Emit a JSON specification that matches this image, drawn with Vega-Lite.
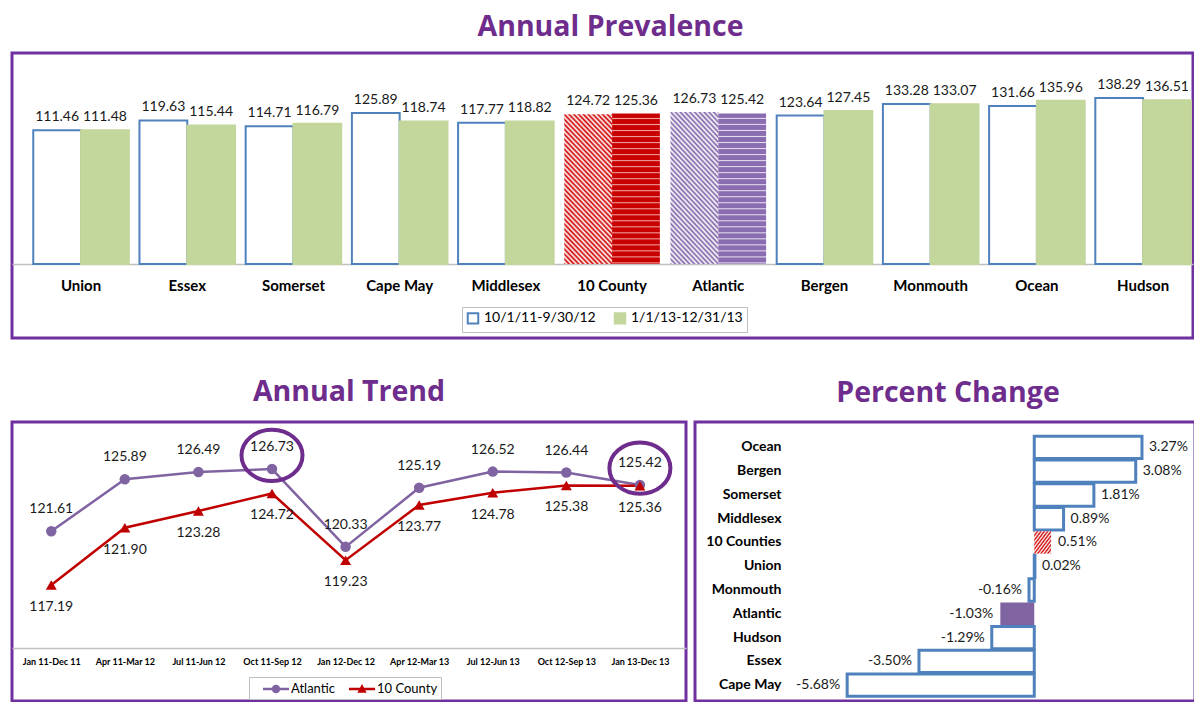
{
  "$schema": "https://vega.github.io/schema/vega-lite/v6.json",
  "background": "white",
  "padding": {"left": 10, "top": 11, "right": 0, "bottom": 0},
  "spacing": 36,
  "config": {
    "font": "Lato",
    "locale": {"number": {"decimal": ".", "thousands": ",", "grouping": [3], "currency": ["$", ""], "minus": "-"}},
    "view": {"stroke": "#7030A0", "strokeWidth": 3},
    "title": {"font": "Open Sans", "fontSize": 28.5, "fontWeight": "bold", "color": "#6E2C8C", "anchor": "middle", "offset": 12},
    "axis": {"grid": false, "ticks": false, "tickSize": 0, "title": null, "domainColor": "#BFBFBF", "labelColor": "#000000", "labelFont": "Lato", "labelFontWeight": "bold"},
    "legend": {"labelFont": "Lato", "labelColor": "#000000"}
  },
  "datasets": {
    "prev": [
      {"county": "Union", "period": "10/1/11-9/30/12", "value": 111.46},
      {"county": "Union", "period": "1/1/13-12/31/13", "value": 111.48},
      {"county": "Essex", "period": "10/1/11-9/30/12", "value": 119.63},
      {"county": "Essex", "period": "1/1/13-12/31/13", "value": 115.44},
      {"county": "Somerset", "period": "10/1/11-9/30/12", "value": 114.71},
      {"county": "Somerset", "period": "1/1/13-12/31/13", "value": 116.79},
      {"county": "Cape May", "period": "10/1/11-9/30/12", "value": 125.89},
      {"county": "Cape May", "period": "1/1/13-12/31/13", "value": 118.74},
      {"county": "Middlesex", "period": "10/1/11-9/30/12", "value": 117.77},
      {"county": "Middlesex", "period": "1/1/13-12/31/13", "value": 118.82},
      {"county": "10 County", "period": "10/1/11-9/30/12", "value": 124.72},
      {"county": "10 County", "period": "1/1/13-12/31/13", "value": 125.36},
      {"county": "Atlantic", "period": "10/1/11-9/30/12", "value": 126.73},
      {"county": "Atlantic", "period": "1/1/13-12/31/13", "value": 125.42},
      {"county": "Bergen", "period": "10/1/11-9/30/12", "value": 123.64},
      {"county": "Bergen", "period": "1/1/13-12/31/13", "value": 127.45},
      {"county": "Monmouth", "period": "10/1/11-9/30/12", "value": 133.28},
      {"county": "Monmouth", "period": "1/1/13-12/31/13", "value": 133.07},
      {"county": "Ocean", "period": "10/1/11-9/30/12", "value": 131.66},
      {"county": "Ocean", "period": "1/1/13-12/31/13", "value": 135.96},
      {"county": "Hudson", "period": "10/1/11-9/30/12", "value": 138.29},
      {"county": "Hudson", "period": "1/1/13-12/31/13", "value": 136.51}
    ],
    "trend": [
      {"period": "Jan 11-Dec 11", "series": "Atlantic", "value": 121.61},
      {"period": "Apr 11-Mar 12", "series": "Atlantic", "value": 125.89},
      {"period": "Jul 11-Jun 12", "series": "Atlantic", "value": 126.49},
      {"period": "Oct 11-Sep 12", "series": "Atlantic", "value": 126.73},
      {"period": "Jan 12-Dec 12", "series": "Atlantic", "value": 120.33},
      {"period": "Apr 12-Mar 13", "series": "Atlantic", "value": 125.19},
      {"period": "Jul 12-Jun 13", "series": "Atlantic", "value": 126.52},
      {"period": "Oct 12-Sep 13", "series": "Atlantic", "value": 126.44},
      {"period": "Jan 13-Dec 13", "series": "Atlantic", "value": 125.42},
      {"period": "Jan 11-Dec 11", "series": "10 County", "value": 117.19},
      {"period": "Apr 11-Mar 12", "series": "10 County", "value": 121.90},
      {"period": "Jul 11-Jun 12", "series": "10 County", "value": 123.28},
      {"period": "Oct 11-Sep 12", "series": "10 County", "value": 124.72},
      {"period": "Jan 12-Dec 12", "series": "10 County", "value": 119.23},
      {"period": "Apr 12-Mar 13", "series": "10 County", "value": 123.77},
      {"period": "Jul 12-Jun 13", "series": "10 County", "value": 124.78},
      {"period": "Oct 12-Sep 13", "series": "10 County", "value": 125.38},
      {"period": "Jan 13-Dec 13", "series": "10 County", "value": 125.36}
    ],
    "rings": [
      {"period": "Oct 11-Sep 12", "value": 127.85},
      {"period": "Jan 13-Dec 13", "value": 126.8}
    ],
    "pct": [
      {"county": "Ocean", "pct": 0.0327},
      {"county": "Bergen", "pct": 0.0308},
      {"county": "Somerset", "pct": 0.0181},
      {"county": "Middlesex", "pct": 0.0089},
      {"county": "10 Counties", "pct": 0.0051},
      {"county": "Union", "pct": 0.0002},
      {"county": "Monmouth", "pct": -0.0016},
      {"county": "Atlantic", "pct": -0.0103},
      {"county": "Hudson", "pct": -0.0129},
      {"county": "Essex", "pct": -0.0350},
      {"county": "Cape May", "pct": -0.0568}
    ]
  },
  "vconcat": [
    {
      "title": {"text": "Annual Prevalence", "dx": 8},
      "width": 1181,
      "height": 285,
      "data": {"name": "prev"},
      "layer": [
        {
          "transform": [{"filter": "datum.county !== '10 County' && datum.county !== 'Atlantic'"}],
          "mark": {"type": "bar", "strokeWidth": 2},
          "encoding": {
            "x": {"field": "county", "type": "nominal", "sort": ["Union","Essex","Somerset","Cape May","Middlesex","10 County","Atlantic","Bergen","Monmouth","Ocean","Hudson"],
              "scale": {"paddingInner": 0.1, "paddingOuter": 0.11, "align": 0.91},
              "axis": {"offset": -74, "labelAngle": 0, "labelFontSize": 15, "labelPadding": 14, "domainWidth": 1.5}},
            "xOffset": {"field": "period", "type": "nominal", "sort": ["10/1/11-9/30/12","1/1/13-12/31/13"], "scale": {"paddingInner": 0}},
            "y": {"field": "value", "type": "quantitative", "stack": null, "scale": {"domain": [-61.7, 175.8], "nice": false, "zero": false}, "axis": null},
            "fill": {"field": "period", "type": "nominal", "scale": {"domain": ["10/1/11-9/30/12","1/1/13-12/31/13"], "range": ["#FFFFFF", "#C3D69B"]},
              "legend": {"orient": "none", "legendX": 450, "legendY": 254, "direction": "horizontal", "title": null, "strokeColor": "#BFBFBF", "padding": 4, "symbolType": "square", "symbolSize": 110, "symbolStrokeWidth": 2, "labelFontSize": 14, "columnPadding": 14}},
            "stroke": {"field": "period", "type": "nominal", "scale": {"domain": ["10/1/11-9/30/12","1/1/13-12/31/13"], "range": ["#4F81BD", "#C3D69B"]},
              "legend": {"orient": "none", "legendX": 450, "legendY": 254, "direction": "horizontal", "title": null, "strokeColor": "#BFBFBF", "padding": 4, "symbolType": "square", "symbolSize": 110, "symbolStrokeWidth": 2, "labelFontSize": 14, "columnPadding": 14}}
          }
        },
        {
          "transform": [{"filter": "datum.county === '10 County' && datum.period === '10/1/11-9/30/12'"}],
          "mark": {"type": "bar", "fill": {"gradient": "linear", "x1": 0, "y1": 1, "x2": 0.4, "y2": -0.2, "stops": [
            {"offset":0,"color":"#D00000"},{"offset":0.0125,"color":"#FFFFFF"},{"offset":0.025,"color":"#D00000"},{"offset":0.0375,"color":"#FFFFFF"},{"offset":0.05,"color":"#D00000"},{"offset":0.0625,"color":"#FFFFFF"},{"offset":0.075,"color":"#D00000"},{"offset":0.0875,"color":"#FFFFFF"},{"offset":0.1,"color":"#D00000"},{"offset":0.1125,"color":"#FFFFFF"},{"offset":0.125,"color":"#D00000"},{"offset":0.1375,"color":"#FFFFFF"},{"offset":0.15,"color":"#D00000"},{"offset":0.1625,"color":"#FFFFFF"},{"offset":0.175,"color":"#D00000"},{"offset":0.1875,"color":"#FFFFFF"},{"offset":0.2,"color":"#D00000"},{"offset":0.2125,"color":"#FFFFFF"},{"offset":0.225,"color":"#D00000"},{"offset":0.2375,"color":"#FFFFFF"},{"offset":0.25,"color":"#D00000"},{"offset":0.2625,"color":"#FFFFFF"},{"offset":0.275,"color":"#D00000"},{"offset":0.2875,"color":"#FFFFFF"},{"offset":0.3,"color":"#D00000"},{"offset":0.3125,"color":"#FFFFFF"},{"offset":0.325,"color":"#D00000"},{"offset":0.3375,"color":"#FFFFFF"},{"offset":0.35,"color":"#D00000"},{"offset":0.3625,"color":"#FFFFFF"},{"offset":0.375,"color":"#D00000"},{"offset":0.3875,"color":"#FFFFFF"},{"offset":0.4,"color":"#D00000"},{"offset":0.4125,"color":"#FFFFFF"},{"offset":0.425,"color":"#D00000"},{"offset":0.4375,"color":"#FFFFFF"},{"offset":0.45,"color":"#D00000"},{"offset":0.4625,"color":"#FFFFFF"},{"offset":0.475,"color":"#D00000"},{"offset":0.4875,"color":"#FFFFFF"},{"offset":0.5,"color":"#D00000"},{"offset":0.5125,"color":"#FFFFFF"},{"offset":0.525,"color":"#D00000"},{"offset":0.5375,"color":"#FFFFFF"},{"offset":0.55,"color":"#D00000"},{"offset":0.5625,"color":"#FFFFFF"},{"offset":0.575,"color":"#D00000"},{"offset":0.5875,"color":"#FFFFFF"},{"offset":0.6,"color":"#D00000"},{"offset":0.6125,"color":"#FFFFFF"},{"offset":0.625,"color":"#D00000"},{"offset":0.6375,"color":"#FFFFFF"},{"offset":0.65,"color":"#D00000"},{"offset":0.6625,"color":"#FFFFFF"},{"offset":0.675,"color":"#D00000"},{"offset":0.6875,"color":"#FFFFFF"},{"offset":0.7,"color":"#D00000"},{"offset":0.7125,"color":"#FFFFFF"},{"offset":0.725,"color":"#D00000"},{"offset":0.7375,"color":"#FFFFFF"},{"offset":0.75,"color":"#D00000"},{"offset":0.7625,"color":"#FFFFFF"},{"offset":0.775,"color":"#D00000"},{"offset":0.7875,"color":"#FFFFFF"},{"offset":0.8,"color":"#D00000"},{"offset":0.8125,"color":"#FFFFFF"},{"offset":0.825,"color":"#D00000"},{"offset":0.8375,"color":"#FFFFFF"},{"offset":0.85,"color":"#D00000"},{"offset":0.8625,"color":"#FFFFFF"},{"offset":0.875,"color":"#D00000"},{"offset":0.8875,"color":"#FFFFFF"},{"offset":0.9,"color":"#D00000"},{"offset":0.9125,"color":"#FFFFFF"},{"offset":0.925,"color":"#D00000"},{"offset":0.9375,"color":"#FFFFFF"},{"offset":0.95,"color":"#D00000"},{"offset":0.9625,"color":"#FFFFFF"},{"offset":0.975,"color":"#D00000"},{"offset":0.9875,"color":"#FFFFFF"},{"offset":1,"color":"#D00000"}]}},
          "encoding": {
            "x": {"field": "county", "type": "nominal", "sort": ["Union","Essex","Somerset","Cape May","Middlesex","10 County","Atlantic","Bergen","Monmouth","Ocean","Hudson"]},
            "xOffset": {"field": "period", "type": "nominal", "sort": ["10/1/11-9/30/12","1/1/13-12/31/13"]},
            "y": {"field": "value", "type": "quantitative", "stack": null}
          }
        },
        {
          "transform": [{"filter": "datum.county === 'Atlantic' && datum.period === '10/1/11-9/30/12'"}],
          "mark": {"type": "bar", "fill": {"gradient": "linear", "x1": 0, "y1": 1, "x2": 0.4, "y2": -0.2, "stops": [
            {"offset":0,"color":"#7E62A8"},{"offset":0.0125,"color":"#FFFFFF"},{"offset":0.025,"color":"#7E62A8"},{"offset":0.0375,"color":"#FFFFFF"},{"offset":0.05,"color":"#7E62A8"},{"offset":0.0625,"color":"#FFFFFF"},{"offset":0.075,"color":"#7E62A8"},{"offset":0.0875,"color":"#FFFFFF"},{"offset":0.1,"color":"#7E62A8"},{"offset":0.1125,"color":"#FFFFFF"},{"offset":0.125,"color":"#7E62A8"},{"offset":0.1375,"color":"#FFFFFF"},{"offset":0.15,"color":"#7E62A8"},{"offset":0.1625,"color":"#FFFFFF"},{"offset":0.175,"color":"#7E62A8"},{"offset":0.1875,"color":"#FFFFFF"},{"offset":0.2,"color":"#7E62A8"},{"offset":0.2125,"color":"#FFFFFF"},{"offset":0.225,"color":"#7E62A8"},{"offset":0.2375,"color":"#FFFFFF"},{"offset":0.25,"color":"#7E62A8"},{"offset":0.2625,"color":"#FFFFFF"},{"offset":0.275,"color":"#7E62A8"},{"offset":0.2875,"color":"#FFFFFF"},{"offset":0.3,"color":"#7E62A8"},{"offset":0.3125,"color":"#FFFFFF"},{"offset":0.325,"color":"#7E62A8"},{"offset":0.3375,"color":"#FFFFFF"},{"offset":0.35,"color":"#7E62A8"},{"offset":0.3625,"color":"#FFFFFF"},{"offset":0.375,"color":"#7E62A8"},{"offset":0.3875,"color":"#FFFFFF"},{"offset":0.4,"color":"#7E62A8"},{"offset":0.4125,"color":"#FFFFFF"},{"offset":0.425,"color":"#7E62A8"},{"offset":0.4375,"color":"#FFFFFF"},{"offset":0.45,"color":"#7E62A8"},{"offset":0.4625,"color":"#FFFFFF"},{"offset":0.475,"color":"#7E62A8"},{"offset":0.4875,"color":"#FFFFFF"},{"offset":0.5,"color":"#7E62A8"},{"offset":0.5125,"color":"#FFFFFF"},{"offset":0.525,"color":"#7E62A8"},{"offset":0.5375,"color":"#FFFFFF"},{"offset":0.55,"color":"#7E62A8"},{"offset":0.5625,"color":"#FFFFFF"},{"offset":0.575,"color":"#7E62A8"},{"offset":0.5875,"color":"#FFFFFF"},{"offset":0.6,"color":"#7E62A8"},{"offset":0.6125,"color":"#FFFFFF"},{"offset":0.625,"color":"#7E62A8"},{"offset":0.6375,"color":"#FFFFFF"},{"offset":0.65,"color":"#7E62A8"},{"offset":0.6625,"color":"#FFFFFF"},{"offset":0.675,"color":"#7E62A8"},{"offset":0.6875,"color":"#FFFFFF"},{"offset":0.7,"color":"#7E62A8"},{"offset":0.7125,"color":"#FFFFFF"},{"offset":0.725,"color":"#7E62A8"},{"offset":0.7375,"color":"#FFFFFF"},{"offset":0.75,"color":"#7E62A8"},{"offset":0.7625,"color":"#FFFFFF"},{"offset":0.775,"color":"#7E62A8"},{"offset":0.7875,"color":"#FFFFFF"},{"offset":0.8,"color":"#7E62A8"},{"offset":0.8125,"color":"#FFFFFF"},{"offset":0.825,"color":"#7E62A8"},{"offset":0.8375,"color":"#FFFFFF"},{"offset":0.85,"color":"#7E62A8"},{"offset":0.8625,"color":"#FFFFFF"},{"offset":0.875,"color":"#7E62A8"},{"offset":0.8875,"color":"#FFFFFF"},{"offset":0.9,"color":"#7E62A8"},{"offset":0.9125,"color":"#FFFFFF"},{"offset":0.925,"color":"#7E62A8"},{"offset":0.9375,"color":"#FFFFFF"},{"offset":0.95,"color":"#7E62A8"},{"offset":0.9625,"color":"#FFFFFF"},{"offset":0.975,"color":"#7E62A8"},{"offset":0.9875,"color":"#FFFFFF"},{"offset":1,"color":"#7E62A8"}]}},
          "encoding": {
            "x": {"field": "county", "type": "nominal", "sort": ["Union","Essex","Somerset","Cape May","Middlesex","10 County","Atlantic","Bergen","Monmouth","Ocean","Hudson"]},
            "xOffset": {"field": "period", "type": "nominal", "sort": ["10/1/11-9/30/12","1/1/13-12/31/13"]},
            "y": {"field": "value", "type": "quantitative", "stack": null}
          }
        },
        {
          "transform": [{"filter": "datum.county === '10 County' && datum.period === '1/1/13-12/31/13'"}],
          "mark": {"type": "bar", "fill": {"gradient": "linear", "x1": 0, "y1": 0, "x2": 0, "y2": 1, "stops": [
            {"offset":0,"color":"#C80000"},{"offset":0.026,"color":"#C80000"},{"offset":0.033,"color":"#F2A0A0"},
            {"offset":0.04,"color":"#C80000"},{"offset":0.066,"color":"#C80000"},{"offset":0.073,"color":"#F2A0A0"},
            {"offset":0.08,"color":"#C80000"},{"offset":0.106,"color":"#C80000"},{"offset":0.113,"color":"#F2A0A0"},
            {"offset":0.12,"color":"#C80000"},{"offset":0.146,"color":"#C80000"},{"offset":0.153,"color":"#F2A0A0"},
            {"offset":0.16,"color":"#C80000"},{"offset":0.186,"color":"#C80000"},{"offset":0.193,"color":"#F2A0A0"},
            {"offset":0.2,"color":"#C80000"},{"offset":0.226,"color":"#C80000"},{"offset":0.233,"color":"#F2A0A0"},
            {"offset":0.24,"color":"#C80000"},{"offset":0.266,"color":"#C80000"},{"offset":0.273,"color":"#F2A0A0"},
            {"offset":0.28,"color":"#C80000"},{"offset":0.306,"color":"#C80000"},{"offset":0.313,"color":"#F2A0A0"},
            {"offset":0.32,"color":"#C80000"},{"offset":0.346,"color":"#C80000"},{"offset":0.353,"color":"#F2A0A0"},
            {"offset":0.36,"color":"#C80000"},{"offset":0.386,"color":"#C80000"},{"offset":0.393,"color":"#F2A0A0"},
            {"offset":0.4,"color":"#C80000"},{"offset":0.426,"color":"#C80000"},{"offset":0.433,"color":"#F2A0A0"},
            {"offset":0.44,"color":"#C80000"},{"offset":0.466,"color":"#C80000"},{"offset":0.473,"color":"#F2A0A0"},
            {"offset":0.48,"color":"#C80000"},{"offset":0.506,"color":"#C80000"},{"offset":0.513,"color":"#F2A0A0"},
            {"offset":0.52,"color":"#C80000"},{"offset":0.546,"color":"#C80000"},{"offset":0.553,"color":"#F2A0A0"},
            {"offset":0.56,"color":"#C80000"},{"offset":0.586,"color":"#C80000"},{"offset":0.593,"color":"#F2A0A0"},
            {"offset":0.6,"color":"#C80000"},{"offset":0.626,"color":"#C80000"},{"offset":0.633,"color":"#F2A0A0"},
            {"offset":0.64,"color":"#C80000"},{"offset":0.666,"color":"#C80000"},{"offset":0.673,"color":"#F2A0A0"},
            {"offset":0.68,"color":"#C80000"},{"offset":0.706,"color":"#C80000"},{"offset":0.713,"color":"#F2A0A0"},
            {"offset":0.72,"color":"#C80000"},{"offset":0.746,"color":"#C80000"},{"offset":0.753,"color":"#F2A0A0"},
            {"offset":0.76,"color":"#C80000"},{"offset":0.786,"color":"#C80000"},{"offset":0.793,"color":"#F2A0A0"},
            {"offset":0.8,"color":"#C80000"},{"offset":0.826,"color":"#C80000"},{"offset":0.833,"color":"#F2A0A0"},
            {"offset":0.84,"color":"#C80000"},{"offset":0.866,"color":"#C80000"},{"offset":0.873,"color":"#F2A0A0"},
            {"offset":0.88,"color":"#C80000"},{"offset":0.906,"color":"#C80000"},{"offset":0.913,"color":"#F2A0A0"},
            {"offset":0.92,"color":"#C80000"},{"offset":0.946,"color":"#C80000"},{"offset":0.953,"color":"#F2A0A0"},
            {"offset":0.96,"color":"#C80000"},{"offset":0.986,"color":"#C80000"},{"offset":0.993,"color":"#F2A0A0"},
            {"offset":1,"color":"#C80000"}]}},
          "encoding": {
            "x": {"field": "county", "type": "nominal", "sort": ["Union","Essex","Somerset","Cape May","Middlesex","10 County","Atlantic","Bergen","Monmouth","Ocean","Hudson"]},
            "xOffset": {"field": "period", "type": "nominal", "sort": ["10/1/11-9/30/12","1/1/13-12/31/13"]},
            "y": {"field": "value", "type": "quantitative", "stack": null}
          }
        },
        {
          "transform": [{"filter": "datum.county === 'Atlantic' && datum.period === '1/1/13-12/31/13'"}],
          "mark": {"type": "bar", "fill": {"gradient": "linear", "x1": 0, "y1": 0, "x2": 0, "y2": 1, "stops": [
            {"offset":0,"color":"#8A6CB0"},{"offset":0.026,"color":"#8A6CB0"},{"offset":0.033,"color":"#E4DAF0"},
            {"offset":0.04,"color":"#8A6CB0"},{"offset":0.066,"color":"#8A6CB0"},{"offset":0.073,"color":"#E4DAF0"},
            {"offset":0.08,"color":"#8A6CB0"},{"offset":0.106,"color":"#8A6CB0"},{"offset":0.113,"color":"#E4DAF0"},
            {"offset":0.12,"color":"#8A6CB0"},{"offset":0.146,"color":"#8A6CB0"},{"offset":0.153,"color":"#E4DAF0"},
            {"offset":0.16,"color":"#8A6CB0"},{"offset":0.186,"color":"#8A6CB0"},{"offset":0.193,"color":"#E4DAF0"},
            {"offset":0.2,"color":"#8A6CB0"},{"offset":0.226,"color":"#8A6CB0"},{"offset":0.233,"color":"#E4DAF0"},
            {"offset":0.24,"color":"#8A6CB0"},{"offset":0.266,"color":"#8A6CB0"},{"offset":0.273,"color":"#E4DAF0"},
            {"offset":0.28,"color":"#8A6CB0"},{"offset":0.306,"color":"#8A6CB0"},{"offset":0.313,"color":"#E4DAF0"},
            {"offset":0.32,"color":"#8A6CB0"},{"offset":0.346,"color":"#8A6CB0"},{"offset":0.353,"color":"#E4DAF0"},
            {"offset":0.36,"color":"#8A6CB0"},{"offset":0.386,"color":"#8A6CB0"},{"offset":0.393,"color":"#E4DAF0"},
            {"offset":0.4,"color":"#8A6CB0"},{"offset":0.426,"color":"#8A6CB0"},{"offset":0.433,"color":"#E4DAF0"},
            {"offset":0.44,"color":"#8A6CB0"},{"offset":0.466,"color":"#8A6CB0"},{"offset":0.473,"color":"#E4DAF0"},
            {"offset":0.48,"color":"#8A6CB0"},{"offset":0.506,"color":"#8A6CB0"},{"offset":0.513,"color":"#E4DAF0"},
            {"offset":0.52,"color":"#8A6CB0"},{"offset":0.546,"color":"#8A6CB0"},{"offset":0.553,"color":"#E4DAF0"},
            {"offset":0.56,"color":"#8A6CB0"},{"offset":0.586,"color":"#8A6CB0"},{"offset":0.593,"color":"#E4DAF0"},
            {"offset":0.6,"color":"#8A6CB0"},{"offset":0.626,"color":"#8A6CB0"},{"offset":0.633,"color":"#E4DAF0"},
            {"offset":0.64,"color":"#8A6CB0"},{"offset":0.666,"color":"#8A6CB0"},{"offset":0.673,"color":"#E4DAF0"},
            {"offset":0.68,"color":"#8A6CB0"},{"offset":0.706,"color":"#8A6CB0"},{"offset":0.713,"color":"#E4DAF0"},
            {"offset":0.72,"color":"#8A6CB0"},{"offset":0.746,"color":"#8A6CB0"},{"offset":0.753,"color":"#E4DAF0"},
            {"offset":0.76,"color":"#8A6CB0"},{"offset":0.786,"color":"#8A6CB0"},{"offset":0.793,"color":"#E4DAF0"},
            {"offset":0.8,"color":"#8A6CB0"},{"offset":0.826,"color":"#8A6CB0"},{"offset":0.833,"color":"#E4DAF0"},
            {"offset":0.84,"color":"#8A6CB0"},{"offset":0.866,"color":"#8A6CB0"},{"offset":0.873,"color":"#E4DAF0"},
            {"offset":0.88,"color":"#8A6CB0"},{"offset":0.906,"color":"#8A6CB0"},{"offset":0.913,"color":"#E4DAF0"},
            {"offset":0.92,"color":"#8A6CB0"},{"offset":0.946,"color":"#8A6CB0"},{"offset":0.953,"color":"#E4DAF0"},
            {"offset":0.96,"color":"#8A6CB0"},{"offset":0.986,"color":"#8A6CB0"},{"offset":0.993,"color":"#E4DAF0"},
            {"offset":1,"color":"#8A6CB0"}]}},
          "encoding": {
            "x": {"field": "county", "type": "nominal", "sort": ["Union","Essex","Somerset","Cape May","Middlesex","10 County","Atlantic","Bergen","Monmouth","Ocean","Hudson"]},
            "xOffset": {"field": "period", "type": "nominal", "sort": ["10/1/11-9/30/12","1/1/13-12/31/13"]},
            "y": {"field": "value", "type": "quantitative", "stack": null}
          }
        },
        {
          "mark": {"type": "text", "baseline": "alphabetic", "dy": -9, "fontSize": 14, "color": "#1A1A1A"},
          "encoding": {
            "x": {"field": "county", "type": "nominal", "sort": ["Union","Essex","Somerset","Cape May","Middlesex","10 County","Atlantic","Bergen","Monmouth","Ocean","Hudson"]},
            "xOffset": {"field": "period", "type": "nominal", "sort": ["10/1/11-9/30/12","1/1/13-12/31/13"]},
            "y": {"field": "value", "type": "quantitative", "stack": null},
            "text": {"field": "value", "type": "quantitative", "format": ".2f"}
          }
        }
      ]
    },
    {
      "spacing": 5,
      "hconcat": [
        {
          "title": {"text": "Annual Trend", "offset": 15},
          "width": 674,
          "height": 279,
          "layer": [
            {
              "data": {"name": "trend"},
              "mark": {"type": "line", "strokeWidth": 2.5},
              "encoding": {
                "x": {"field": "period", "type": "nominal", "sort": ["Jan 11-Dec 11","Apr 11-Mar 12","Jul 11-Jun 12","Oct 11-Sep 12","Jan 12-Dec 12","Apr 12-Mar 13","Jul 12-Jun 13","Oct 12-Sep 13","Jan 13-Dec 13"],
                  "scale": {"type": "point", "padding": 0.58, "align": 0.46},
                  "axis": {"offset": -53, "labelAngle": 0, "labelFontSize": 9, "labelPadding": 9, "domainWidth": 1.5}},
                "y": {"field": "value", "type": "quantitative", "scale": {"domain": [107.65, 130.6], "nice": false, "zero": false}, "axis": null},
                "color": {"field": "series", "type": "nominal", "scale": {"domain": ["Atlantic", "10 County"], "range": ["#8064A2", "#C00000"]},
                  "legend": {"orient": "none", "legendX": 237, "legendY": 624, "direction": "horizontal", "title": null, "strokeColor": "#BFBFBF", "padding": 3, "labelFontSize": 13, "symbolSize": 324, "columnPadding": 3, "labelOffset": 6, "symbolOffset": 15,
                    "labelExpr": "datum.value === '10 County' ? datum.label + '   ' : datum.label",
                    "symbolType": {"expr": "datum.value === 'Atlantic' ? 'M-1.45,-0.13L1.45,-0.13L1.45,0.13L-1.45,0.13Z M0.47,0A0.47,0.47 0 1,1 -0.47,0A0.47,0.47 0 1,1 0.47,0Z' : 'M-1.45,-0.13L1.45,-0.13L1.45,0.13L-1.45,0.13Z M0,-0.55L0.52,0.42L-0.52,0.42Z'"},
                    "symbolFillColor": {"expr": "datum.value === 'Atlantic' ? '#8064A2' : '#C00000'"},
                    "symbolStrokeWidth": 0}}
              }
            },
            {
              "data": {"name": "trend"},
              "transform": [{"filter": "datum.series === 'Atlantic'"}],
              "mark": {"type": "point", "filled": true, "opacity": 1, "size": 110, "shape": "circle", "color": "#8064A2"},
              "encoding": {
                "x": {"field": "period", "type": "nominal", "sort": ["Jan 11-Dec 11","Apr 11-Mar 12","Jul 11-Jun 12","Oct 11-Sep 12","Jan 12-Dec 12","Apr 12-Mar 13","Jul 12-Jun 13","Oct 12-Sep 13","Jan 13-Dec 13"]},
                "y": {"field": "value", "type": "quantitative"}
              }
            },
            {
              "data": {"name": "trend"},
              "transform": [{"filter": "datum.series === '10 County'"}],
              "mark": {"type": "point", "filled": true, "opacity": 1, "size": 120, "shape": "triangle-up", "color": "#C00000"},
              "encoding": {
                "x": {"field": "period", "type": "nominal", "sort": ["Jan 11-Dec 11","Apr 11-Mar 12","Jul 11-Jun 12","Oct 11-Sep 12","Jan 12-Dec 12","Apr 12-Mar 13","Jul 12-Jun 13","Oct 12-Sep 13","Jan 13-Dec 13"]},
                "y": {"field": "value", "type": "quantitative"}
              }
            },
            {
              "data": {"name": "trend"},
              "transform": [{"filter": "datum.series === 'Atlantic'"}],
              "mark": {"type": "text", "dy": -22, "fontSize": 14, "color": "#1A1A1A"},
              "encoding": {
                "x": {"field": "period", "type": "nominal", "sort": ["Jan 11-Dec 11","Apr 11-Mar 12","Jul 11-Jun 12","Oct 11-Sep 12","Jan 12-Dec 12","Apr 12-Mar 13","Jul 12-Jun 13","Oct 12-Sep 13","Jan 13-Dec 13"]},
                "y": {"field": "value", "type": "quantitative"},
                "text": {"field": "value", "type": "quantitative", "format": ".2f"}
              }
            },
            {
              "data": {"name": "trend"},
              "transform": [{"filter": "datum.series === '10 County'"}],
              "mark": {"type": "text", "dy": 22, "fontSize": 14, "color": "#1A1A1A"},
              "encoding": {
                "x": {"field": "period", "type": "nominal", "sort": ["Jan 11-Dec 11","Apr 11-Mar 12","Jul 11-Jun 12","Oct 11-Sep 12","Jan 12-Dec 12","Apr 12-Mar 13","Jul 12-Jun 13","Oct 12-Sep 13","Jan 13-Dec 13"]},
                "y": {"field": "value", "type": "quantitative"},
                "text": {"field": "value", "type": "quantitative", "format": ".2f"}
              }
            },
            {
              "data": {"name": "rings"},
              "mark": {"type": "point", "filled": false, "opacity": 1, "shape": "M1,0A1,0.84 0 1,1 -1,0A1,0.84 0 1,1 1,0Z", "size": 3721, "stroke": "#6E2C8C", "strokeWidth": 4},
              "encoding": {
                "x": {"field": "period", "type": "nominal", "sort": ["Jan 11-Dec 11","Apr 11-Mar 12","Jul 11-Jun 12","Oct 11-Sep 12","Jan 12-Dec 12","Apr 12-Mar 13","Jul 12-Jun 13","Oct 12-Sep 13","Jan 13-Dec 13"]},
                "y": {"field": "value", "type": "quantitative"}
              }
            }
          ]
        },
        {
          "title": {"text": "Percent Change", "dx": 3, "offset": 15},
          "width": 500,
          "height": 279,
          "data": {"name": "pct"},
          "layer": [
            {
              "transform": [{"filter": "datum.county !== 'Atlantic' && datum.county !== '10 Counties'"}],
              "mark": {"type": "bar", "fill": "#FFFFFF", "stroke": "#4F81BD", "strokeWidth": 3},
              "encoding": {
                "y": {"field": "county", "type": "nominal", "sort": ["Ocean","Bergen","Somerset","Middlesex","10 Counties","Union","Monmouth","Atlantic","Hudson","Essex","Cape May"],
                  "scale": {"paddingInner": 0.06, "paddingOuter": 0.4, "align": 0.75},
                  "axis": {"orient": "left", "offset": -88, "labelPadding": 2, "labelFontSize": 14, "domain": false}},
                "x": {"field": "pct", "type": "quantitative", "scale": {"domain": [-0.103, 0.0488], "nice": false, "zero": false}, "axis": null}
              }
            },
            {
              "transform": [{"filter": "datum.county === 'Atlantic'"}],
              "mark": {"type": "bar", "fill": "#8064A2"},
              "encoding": {
                "y": {"field": "county", "type": "nominal", "sort": ["Ocean","Bergen","Somerset","Middlesex","10 Counties","Union","Monmouth","Atlantic","Hudson","Essex","Cape May"]},
                "x": {"field": "pct", "type": "quantitative"}
              }
            },
            {
              "transform": [{"filter": "datum.county === '10 Counties'"}],
              "mark": {"type": "bar", "fill": {"gradient": "linear", "x1": 0, "y1": 0, "x2": 1, "y2": 1, "stops": [
                {"offset":0,"color":"#D00000"},{"offset":0.05,"color":"#FFFFFF"},{"offset":0.1,"color":"#D00000"},{"offset":0.15,"color":"#FFFFFF"},{"offset":0.2,"color":"#D00000"},{"offset":0.25,"color":"#FFFFFF"},{"offset":0.3,"color":"#D00000"},{"offset":0.35,"color":"#FFFFFF"},{"offset":0.4,"color":"#D00000"},{"offset":0.45,"color":"#FFFFFF"},{"offset":0.5,"color":"#D00000"},{"offset":0.55,"color":"#FFFFFF"},{"offset":0.6,"color":"#D00000"},{"offset":0.65,"color":"#FFFFFF"},{"offset":0.7,"color":"#D00000"},{"offset":0.75,"color":"#FFFFFF"},{"offset":0.8,"color":"#D00000"},{"offset":0.85,"color":"#FFFFFF"},{"offset":0.9,"color":"#D00000"},{"offset":0.95,"color":"#FFFFFF"},{"offset":1,"color":"#D00000"}]}},
              "encoding": {
                "y": {"field": "county", "type": "nominal", "sort": ["Ocean","Bergen","Somerset","Middlesex","10 Counties","Union","Monmouth","Atlantic","Hudson","Essex","Cape May"]},
                "x": {"field": "pct", "type": "quantitative"}
              }
            },
            {
              "transform": [{"filter": "datum.pct >= 0"}],
              "mark": {"type": "text", "align": "left", "dx": 7, "fontSize": 14, "color": "#1A1A1A"},
              "encoding": {
                "y": {"field": "county", "type": "nominal", "sort": ["Ocean","Bergen","Somerset","Middlesex","10 Counties","Union","Monmouth","Atlantic","Hudson","Essex","Cape May"]},
                "x": {"field": "pct", "type": "quantitative"},
                "text": {"field": "pct", "type": "quantitative", "format": ".2%"}
              }
            },
            {
              "transform": [{"filter": "datum.pct < 0"}],
              "mark": {"type": "text", "align": "right", "dx": -7, "fontSize": 14, "color": "#1A1A1A"},
              "encoding": {
                "y": {"field": "county", "type": "nominal", "sort": ["Ocean","Bergen","Somerset","Middlesex","10 Counties","Union","Monmouth","Atlantic","Hudson","Essex","Cape May"]},
                "x": {"field": "pct", "type": "quantitative"},
                "text": {"field": "pct", "type": "quantitative", "format": ".2%"}
              }
            }
          ]
        }
      ]
    }
  ]
}
